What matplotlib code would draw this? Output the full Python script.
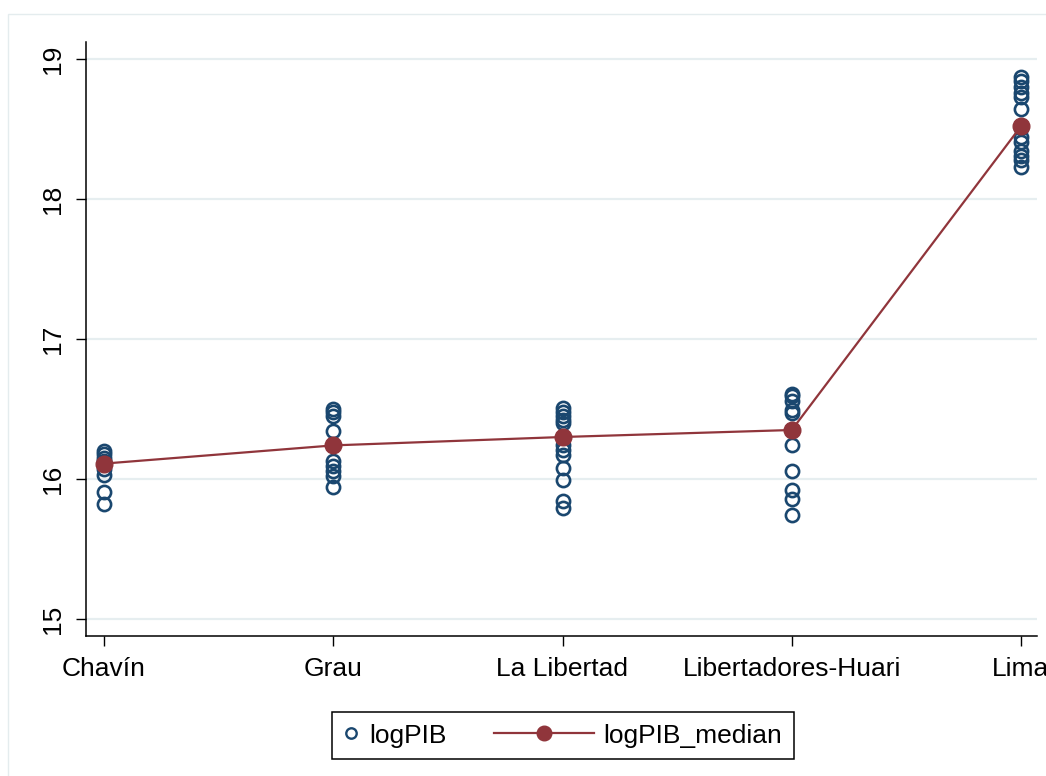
import numpy as np
import matplotlib
matplotlib.use('Agg')
import matplotlib.pyplot as plt
from matplotlib.lines import Line2D
from matplotlib.patches import Rectangle

plt.rcParams['font.family'] = ['Liberation Sans', 'DejaVu Sans']

#data
regions = ['Chavín', 'Grau', 'La Libertad', 'Libertadores-Huari', 'Lima']
logpib_chavin = [16.20, 16.18, 16.15, 16.13, 16.07, 16.03, 15.91, 15.82]
logpib_grau = [16.50, 16.48, 16.45, 16.34, 16.24, 16.13, 16.09, 16.06, 16.02, 15.94]
logpib_lalibertad = [16.51, 16.48, 16.45, 16.42, 16.40, 16.30, 16.24, 16.21, 16.17, 16.08, 15.99, 15.84, 15.79]
logpib_huari = [16.61, 16.59, 16.56, 16.49, 16.47, 16.35, 16.24, 16.06, 15.92, 15.86, 15.74]
logpib_lima = [18.87, 18.84, 18.80, 18.76, 18.73, 18.64, 18.51, 18.44, 18.41, 18.34, 18.31, 18.28, 18.23]
logpib_median = [16.11, 16.24, 16.30, 16.35, 18.52]

navy = '#1a476f'
maroon = '#90353b'
grid_col = '#e6eef0'

fig = plt.figure(figsize=(10.46, 7.76), dpi=100)

#light outer frame
fig.patches.append(Rectangle((8/1046, -0.1), 1.2, 1 - 14/776 + 0.1,
                             transform=fig.transFigure, fill=False,
                             edgecolor='#e4ecee', linewidth=1.0))

ax = fig.add_axes([86/1046, 1 - 636/776, (1037 - 86)/1046, (636 - 42)/776])

groups = [logpib_chavin, logpib_grau, logpib_lalibertad, logpib_huari, logpib_lima]
for i, vals in enumerate(groups):
    ax.plot([i]*len(vals), vals, linestyle='none', marker='o', markersize=9.5,
            markerfacecolor='none', markeredgecolor=navy, markeredgewidth=1.9,
            zorder=3)

ax.plot(range(len(regions)), logpib_median, color=maroon, linewidth=1.6,
        marker='o', markersize=12, markerfacecolor=maroon,
        markeredgecolor=maroon, zorder=4)

ax.set_xlim(-18/229.25, (1037 - 104)/229.25)
ax.set_ylim(15 - 17/140, 19 + 17/140)
ax.set_yticks([15, 16, 17, 18, 19])
ax.set_xticks(range(len(regions)))
ax.set_xticklabels(regions)
for t in ax.get_yticklabels():
    t.set_rotation(90)
    t.set_va('center')
ax.tick_params(axis='both', labelsize=19, length=7.2, width=1.0, pad=8,
               colors='black')
ax.grid(axis='y', color=grid_col, linewidth=1.6)
ax.set_axisbelow(True)
ax.spines['top'].set_visible(False)
ax.spines['right'].set_visible(False)
for s in ['left', 'bottom']:
    ax.spines[s].set_linewidth(1.1)

#legend: line handle for the median stretches left of its box
class MedianHandler:
    def legend_artist(self, legend, orig_handle, fontsize, handlebox):
        y = (handlebox.height - handlebox.ydescent) / 2
        w = handlebox.width
        ln = Line2D([-60.5, w + 1.5], [y, y], color=maroon, linewidth=1.6,
                    transform=handlebox.get_transform())
        mk = Line2D([-24.5], [y], linestyle='none', marker='o', markersize=10.5,
                    color=maroon, transform=handlebox.get_transform())
        handlebox.add_artist(ln)
        handlebox.add_artist(mk)
        return ln

h1 = Line2D([], [], linestyle='none', marker='o', markersize=7.5,
            markerfacecolor='none', markeredgecolor=navy, markeredgewidth=1.7)
h2 = Line2D([], [], color=maroon)
leg = fig.legend([h1, h2], ['logPIB', 'logPIB_median'], loc='center',
                 bbox_to_anchor=(563/1046, 1 - 735.5/776), ncol=2,
                 fontsize=19, handlelength=0.53, handletextpad=0.45,
                 columnspacing=4.95, borderpad=0.45, borderaxespad=0.2,
                 fancybox=False, framealpha=1, edgecolor='black',
                 handler_map={h2: MedianHandler()})
leg.get_frame().set_linewidth(1.1)

fig.savefig('out.png', dpi=100)
